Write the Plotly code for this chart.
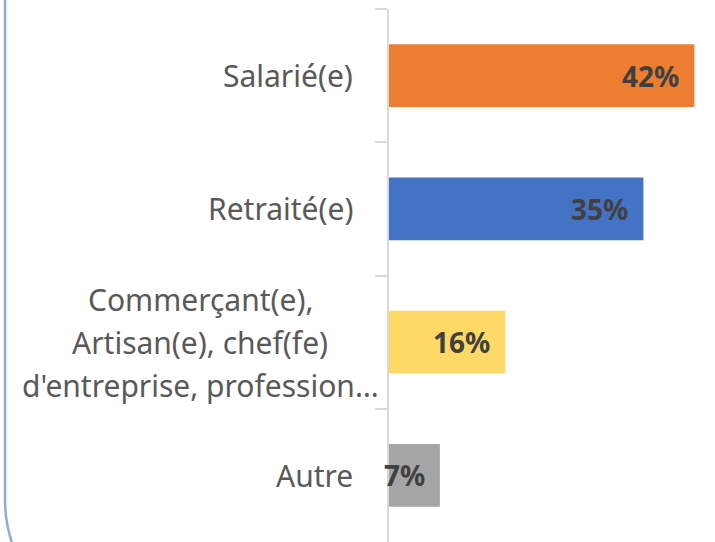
import plotly.graph_objects as go

categories = ["Salarié(e)", "Retraité(e)",
              "Commerçant(e),<br>Artisan(e), chef(fe)<br>d'entreprise, profession…",
              "Autre"]
values = [42, 35, 16, 7]
value_labels = ["42%", "35%", "16%", "7%"]
colors = ["#ED7D31", "#4472C4", "#FFD966", "#A5A5A5"]

W, H = 715, 542
ML, MR, MT, MB = 389, 0, 9, 0
PW, PH = W - ML - MR, H - MT - MB
PX_PER_UNIT = 7.27
xmax = PW / PX_PER_UNIT

FONT = "Noto Sans, Open Sans, sans-serif"

fig = go.Figure()
fig.add_trace(go.Bar(
    y=categories, x=values, orientation="h",
    marker=dict(color=colors, line=dict(width=0)),
    width=0.47, hoverinfo="skip", showlegend=False,
))

annotations = []
# value labels (inside end, bold)
for c, v, t in zip(categories, values, value_labels):
    annotations.append(dict(
        x=v, y=c, xref="x", yref="y", text=t, showarrow=False,
        xanchor="right", yanchor="middle", xshift=-13,
        font=dict(family=FONT, size=28, color="#404040", weight="bold"),
    ))

# category labels
LINE_GAP = 43
for c in categories:
    lines = c.split("<br>")
    if len(lines) == 1:
        annotations.append(dict(
            x=0, y=c, xref="paper", yref="y", text=c, showarrow=False,
            xanchor="right", yanchor="middle", xshift=-34,
            font=dict(family=FONT, size=30, color="#595959"),
        ))
    else:
        n = len(lines)
        for i, ln in enumerate(lines):
            annotations.append(dict(
                x=(200 - ML) / PW, y=c, xref="paper", yref="y", text=ln,
                showarrow=False, xanchor="center", yanchor="middle",
                yshift=((n - 1) / 2 - i) * LINE_GAP,
                font=dict(family=FONT, size=30, color="#595959"),
            ))

# decorative rounded border on the left (container frame)
def px(xp, yp):
    return (xp - ML) / PW, (H - MB - yp) / PH

pts = [px(5, -5), px(5, 500), px(5, 523), px(13, 546)]
path = "M {:.5f},{:.5f} L {:.5f},{:.5f} Q {:.5f},{:.5f} {:.5f},{:.5f}".format(
    pts[0][0], pts[0][1], pts[1][0], pts[1][1], pts[2][0], pts[2][1], pts[3][0], pts[3][1])

fig.update_layout(
    width=W, height=H,
    margin=dict(l=ML, r=MR, t=MT, b=MB, pad=0),
    paper_bgcolor="white", plot_bgcolor="white",
    annotations=annotations,
    shapes=[dict(type="path", path=path, xref="paper", yref="paper",
                 line=dict(color="#8FAADC", width=2.5), layer="above")],
    xaxis=dict(range=[0, xmax], visible=False, fixedrange=True),
    yaxis=dict(
        autorange="reversed", showticklabels=False,
        showline=True, linecolor="#D9D9D9", linewidth=2,
        ticks="outside", tickson="boundaries", ticklen=12,
        tickcolor="#D9D9D9", tickwidth=2,
        showgrid=False, zeroline=False, fixedrange=True,
    ),
    bargap=0.53,
    font=dict(family=FONT),
)

fig.write_html(
    "out.html",
    config={"displayModeBar": False},
    post_script="document.body.style.margin='0px';document.body.style.overflow='hidden';",
)
